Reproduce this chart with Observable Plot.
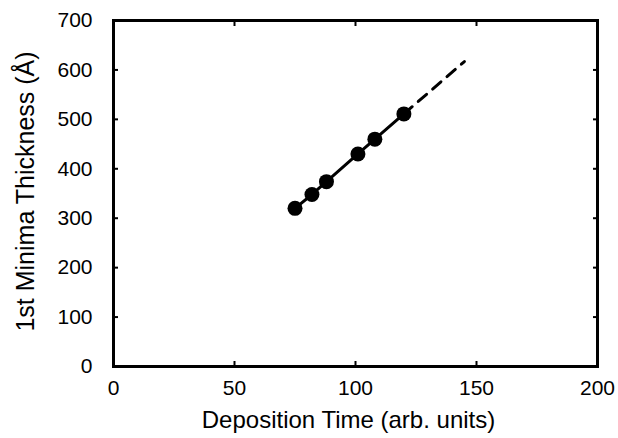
<!DOCTYPE html>
<html>
<head>
<meta charset="utf-8">
<script src="https://cdn.jsdelivr.net/npm/d3@7"></script>
<script src="https://cdn.jsdelivr.net/npm/@observablehq/plot@0.6"></script>
<style>
  html, body { margin: 0; padding: 0; background: #fff; }
  #chart svg { display: block; }
</style>
</head>
<body>
<div id="chart"></div>
<script>
// Measured points
const depositionTime = [75, 82, 88, 101, 108, 120];
const thickness = [320, 348, 374, 430, 460, 511];
// Dashed extrapolation line
const extrapTime = [120, 145];
const extrapThickness = [511, 617];
// Axis ticks
const xTicks = [0, 50, 100, 150, 200];
const yTicks = [0, 100, 200, 300, 400, 500, 600, 700];
const xLabel = "Deposition Time (arb. units)";
const yLabel = "1st Minima Thickness (Å)";

const points = depositionTime.map((t, i) => ({t, h: thickness[i]}));
const extrap = extrapTime.map((t, i) => ({t, h: extrapThickness[i]}));

const font = "Liberation Sans, Arial, Helvetica, sans-serif";

const chart = Plot.plot({
  width: 618,
  height: 438,
  marginLeft: 113,
  marginRight: 21,
  marginTop: 20,
  marginBottom: 72,
  style: {fontFamily: font, background: "#fff", color: "#000"},
  x: {domain: [0, 200]},
  y: {domain: [0, 700]},
  marks: [
    // inward ticks
    Plot.axisX(xTicks, {anchor: "bottom", tickSize: -5, strokeWidth: 2, text: null, label: null}),
    Plot.axisX(xTicks, {anchor: "top", tickSize: -5, strokeWidth: 2, text: null, label: null}),
    Plot.axisY(yTicks, {anchor: "left", tickSize: -5, strokeWidth: 2, text: null, label: null}),
    Plot.axisY(yTicks, {anchor: "right", tickSize: -5, strokeWidth: 2, text: null, label: null}),
    // tick labels
    Plot.axisX(xTicks, {anchor: "bottom", tickSize: 0, tickPadding: 14, fontSize: 21, label: null}),
    Plot.axisY(yTicks, {anchor: "left", tickSize: 0, tickPadding: 21, fontSize: 21, label: null}),
    // axis titles
    Plot.text([xLabel], {text: d => d, frameAnchor: "bottom", textAnchor: "middle", lineAnchor: "middle", dy: 54, dx: -7, fontSize: 24, fill: "#000"}),
    Plot.text([yLabel], {text: d => d, frameAnchor: "left", textAnchor: "middle", lineAnchor: "middle", dx: -88, dy: -2, rotate: -90, fontSize: 25, fill: "#000"}),
    Plot.frame({stroke: "#000", strokeWidth: 3}),
    Plot.line(extrap, {x: "t", y: "h", stroke: "#000", strokeWidth: 3, strokeDasharray: "11,8"}),
    Plot.line(points, {x: "t", y: "h", stroke: "#000", strokeWidth: 3}),
    Plot.dot(points, {x: "t", y: "h", r: 7.5, fill: "#000", stroke: "none"})
  ]
});
document.getElementById("chart").appendChild(chart);
</script>
</body>
</html>
